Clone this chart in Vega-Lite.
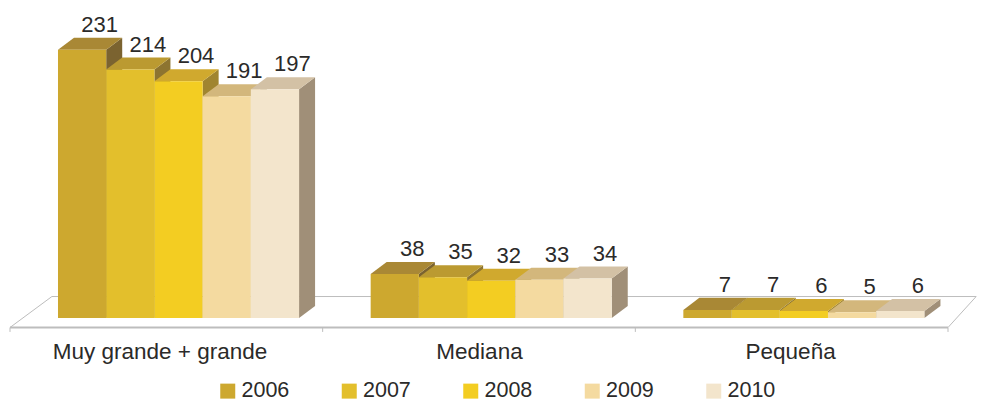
{
"$schema":"https://vega.github.io/schema/vega-lite/v6.json",
"width":973,"height":335,
"autosize":{"type":"none"},
"padding":{"left":10,"top":0,"right":0,"bottom":66},
"background":"white",
"config":{"view":{"stroke":null},"font":"Liberation Sans"},
"data":{"values":[
{"grupo":"Muy grande + grande","anio":"2006","valor":231},
{"grupo":"Muy grande + grande","anio":"2007","valor":214},
{"grupo":"Muy grande + grande","anio":"2008","valor":204},
{"grupo":"Muy grande + grande","anio":"2009","valor":191},
{"grupo":"Muy grande + grande","anio":"2010","valor":197},
{"grupo":"Mediana","anio":"2006","valor":38},
{"grupo":"Mediana","anio":"2007","valor":35},
{"grupo":"Mediana","anio":"2008","valor":32},
{"grupo":"Mediana","anio":"2009","valor":33},
{"grupo":"Mediana","anio":"2010","valor":34},
{"grupo":"Pequeña","anio":"2006","valor":7},
{"grupo":"Pequeña","anio":"2007","valor":7},
{"grupo":"Pequeña","anio":"2008","valor":6},
{"grupo":"Pequeña","anio":"2009","valor":5},
{"grupo":"Pequeña","anio":"2010","valor":6}
]},
"transform":[
{"calculate":"indexof(['Muy grande + grande','Mediana','Pequeña'],datum.grupo)+0.1535+(toNumber(datum.anio)-2006)*0.1542","as":"izq"},
{"calculate":"datum.izq+0.1542","as":"der"}
],
"layer":[
{"data":{"values":[{}]},"mark":{"type":"rule","color":"#BDBDBD","strokeWidth":1},
 "encoding":{"x":{"datum":0.134,"type":"quantitative","scale":{"domain":[0,3.1119],"nice":false,"zero":false},
   "axis":{"title":null,"grid":false,"domain":false,"ticks":false,"values":[0.478,1.5,2.495],"labelExpr":"datum.value<1?'Muy grande + grande':datum.value<2?'Mediana':'Pequeña'","labelFontSize":22.5,"labelLimit":400,"labelFont":"Liberation Sans","labelColor":"#2B2A29","labelPadding":5,"labelFlush":false,"labelOverlap":false}},
  "x2":{"datum":3.09},
  "y":{"datum":18.5,"type":"quantitative","scale":{"domain":[-14.64,273.9],"nice":false,"zero":false},"axis":null},"y2":{"datum":18.5}}},
{"data":{"values":[{}]},"mark":{"type":"rule","color":"#BDBDBD","strokeWidth":1},
 "encoding":{"x":{"datum":0,"type":"quantitative"},"x2":{"datum":0.134},"y":{"datum":-8.18,"type":"quantitative"},"y2":{"datum":18.5}}},
{"data":{"values":[{}]},"mark":{"type":"rule","color":"#BDBDBD","strokeWidth":1},
 "encoding":{"x":{"datum":3,"type":"quantitative"},"x2":{"datum":3.09},"y":{"datum":-8.18,"type":"quantitative"},"y2":{"datum":18.5}}},
{"data":{"values":[{}]},"mark":{"type":"rule","color":"#BDBDBD","strokeWidth":2},
 "encoding":{"x":{"datum":0,"type":"quantitative"},"x2":{"datum":3},"y":{"datum":-8.18,"type":"quantitative"},"y2":{"datum":-8.18}}},
{"data":{"values":[{"b":0},{"b":1},{"b":2},{"b":3}]},"mark":{"type":"rule","color":"#BDBDBD","strokeWidth":1},
 "encoding":{"x":{"field":"b","type":"quantitative"},"y":{"datum":-8.18,"type":"quantitative"},"y2":{"datum":-12}}},
{"transform":[
  {"calculate":"[0,1]","as":"c"},{"flatten":["c"]},
  {"calculate":"datum.der+datum.c*0.0512","as":"sx"},
  {"calculate":"datum.valor+datum.c*10.34","as":"sy"},
  {"calculate":"datum.c*10.34","as":"sy2"}],
 "mark":{"type":"area","line":false,"interpolate":"linear"},
 "encoding":{"x":{"field":"sx","type":"quantitative"},"y":{"field":"sy","type":"quantitative"},"y2":{"field":"sy2"},
  "detail":{"field":"grupo"},
  "color":{"field":"anio","type":"nominal","legend":null,"scale":{"domain":["2006","2007","2008","2009","2010"],"range":["#7B6330","#8D7430","#A08530","#A69268","#A08F78"]}}}},
{"transform":[
  {"calculate":"[0,1,2,3]","as":"c"},{"flatten":["c"]},
  {"calculate":"datum.c==0?datum.izq:datum.c==1?datum.izq+0.0512:datum.c==2?datum.der:datum.der+0.0512","as":"tx"},
  {"calculate":"datum.valor+(datum.c==0?0:10.34)","as":"ty"},
  {"calculate":"datum.valor+(datum.c==3?10.34:0)","as":"ty2"}],
 "mark":{"type":"area","line":false,"interpolate":"linear"},
 "encoding":{"x":{"field":"tx","type":"quantitative"},"y":{"field":"ty","type":"quantitative"},"y2":{"field":"ty2"},
  "detail":{"field":"grupo"},
  "color":{"field":"anio","type":"nominal","legend":null,"scale":{"domain":["2006","2007","2008","2009","2010"],"range":["#A98835","#BB9A31","#D0A92E","#D3B77C","#D3C1A5"]}}}},
{"mark":{"type":"rect"},
 "encoding":{"x":{"field":"izq","type":"quantitative"},"x2":{"field":"der"},"y":{"field":"valor","type":"quantitative"},"y2":{"datum":0},
  "color":{"field":"anio","type":"nominal","title":null,
   "scale":{"domain":["2006","2007","2008","2009","2010"],"range":["#CDA82F","#E3BF2C","#F3CD22","#F4DAA0","#F3E5CC"]},
   "legend":{"orient":"none","legendX":207,"legendY":380,"direction":"horizontal","columns":5,"columnPadding":48.5,"symbolType":"square","symbolSize":225,"symbolStrokeWidth":0,"labelFontSize":21.5,"labelFont":"Liberation Sans","labelColor":"#2B2A29","labelOffset":3,"padding":0}}}},
{"transform":[{"calculate":"datum.izq+0.133","as":"lx"},{"calculate":"datum.valor+10.34","as":"ly"}],
 "mark":{"type":"text","fontSize":22,"font":"Liberation Sans","color":"#2B2A29","baseline":"alphabetic","dy":-6,"align":"center"},
 "encoding":{"x":{"field":"lx","type":"quantitative"},"y":{"field":"ly","type":"quantitative"},"text":{"field":"valor","type":"quantitative"}}}
],
"resolve":{"scale":{"color":"independent"}}
}
